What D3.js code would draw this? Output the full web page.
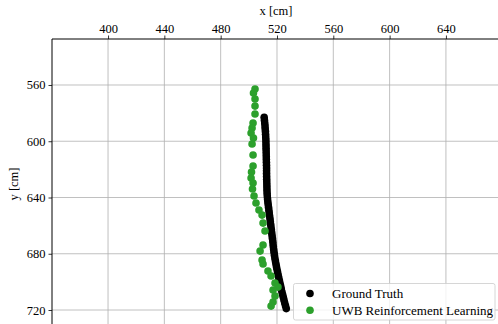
<!DOCTYPE html>
<html><head><meta charset="utf-8">
<script src="https://cdn.jsdelivr.net/npm/d3@7"></script>
<style>
html,body{margin:0;padding:0;background:#fff;overflow:hidden}
text{font-family:"Liberation Serif","Times New Roman",serif;fill:#000}
</style></head><body>
<svg id="c" width="498" height="324"></svg>
<script>
const xTicks = [400, 440, 480, 520, 560, 600, 640];
const yTicks = [560, 600, 640, 680, 720];
const seriesNames = ["Ground Truth", "UWB Reinforcement Learning"];
const seriesColors = ["#000000", "#2ca02c"];

const gtY = [583,585,587,589,591,593,595,597,599,601,603,605,607,609,611,613,615,617,619,621,623,625,627,629,631,633,635,637,639,641,643,645,647,649,651,653,655,657,659,661,663,665,667,669,671,673,675,677,679,681,683,685,687,689,691,693,695,697,699,701,703,705,707,709,711,713,715,717,719];
const gtX = [510.9,511.1,511.3,511.5,511.6,511.8,511.9,512.0,512.1,512.15,512.2,512.25,512.3,512.35,512.4,512.45,512.5,512.55,512.6,512.6,512.6,512.65,512.7,512.75,512.8,512.85,512.9,513.0,513.1,513.3,513.5,513.75,514.0,514.25,514.5,514.75,515.0,515.25,515.5,515.75,516.0,516.25,516.5,516.75,517.0,517.2,517.4,517.65,517.9,518.2,518.5,518.85,519.2,519.6,520.0,520.4,520.8,521.25,521.7,522.15,522.6,523.05,523.5,524.0,524.5,525.0,525.5,526.05,526.6];

const uwbX = [504.4,503.3,504.4,504.4,504.4,503.0,502.3,501.6,503.3,502.3,503.0,503.0,501.9,501.6,503.0,502.6,503.7,505.1,507.2,509.4,510.1,511.5,510.1,508.0,509.4,510.1,513.6,515.8,518.6,520.7,517.2,518.6,517.2,515.8];
const uwbY = [562.8,565.7,570.0,575.0,580.6,587.0,590.6,594.1,597.7,602.0,609.8,617.6,621.9,626.1,629.7,634.0,638.9,643.9,648.9,652.5,658.2,663.8,673.8,678.1,684.5,687.3,692.3,695.8,700.8,703.7,705.8,710.1,714.3,717.2];

const L = 52, T = 39, R = 500, B = 329;
const FONT = "Liberation Serif, Times New Roman, serif";
const svg = d3.select("#c");
const x = d3.scaleLinear().domain([360.2, 678.4]).range([L, R]);
const y = d3.scaleLinear().domain([527.3, 733.5]).range([T, B]);

// grid
const g = svg.append("g");
g.selectAll(".vg").data(xTicks).enter().append("line")
  .attr("x1", d => x(d)).attr("x2", d => x(d)).attr("y1", T).attr("y2", B)
  .attr("stroke", "#b0b0b0").attr("stroke-width", 0.8);
g.selectAll(".hg").data(yTicks).enter().append("line")
  .attr("y1", d => y(d)).attr("y2", d => y(d)).attr("x1", L).attr("x2", R)
  .attr("stroke", "#b0b0b0").attr("stroke-width", 0.8);

// data
const gt = gtX.map((v, i) => [v, gtY[i]]);
const uwb = uwbX.map((v, i) => [v, uwbY[i]]);
const rr = 3.8;
svg.append("g").selectAll("circle").data(gt).enter().append("circle")
  .attr("cx", d => x(d[0])).attr("cy", d => y(d[1])).attr("r", rr).attr("fill", seriesColors[0]);
svg.append("g").selectAll("circle").data(uwb).enter().append("circle")
  .attr("cx", d => x(d[0])).attr("cy", d => y(d[1])).attr("r", rr).attr("fill", seriesColors[1]);

// axes
const fs = "12.5px";
const xa = svg.append("g").attr("transform", `translate(0,${T})`)
  .call(d3.axisTop(x).tickValues(xTicks).tickSize(3.5).tickPadding(3).tickFormat(d3.format("d")));
const ya = svg.append("g").attr("transform", `translate(${L},0)`)
  .call(d3.axisLeft(y).tickValues(yTicks).tickSize(3.5).tickPadding(3).tickFormat(d3.format("d")));
[xa, ya].forEach(a => {
  a.attr("font-family", FONT).attr("font-size", 12.5);
  a.select(".domain").remove();
  a.selectAll(".tick line").attr("stroke", "#000").attr("stroke-width", 0.8);
  a.selectAll("text").attr("font-family", FONT).style("font-family", FONT).style("font-size", fs).attr("fill", "#000");
});
// spines
svg.append("line").attr("x1", L).attr("x2", R).attr("y1", T).attr("y2", T).attr("stroke", "#000").attr("stroke-width", 1);
svg.append("line").attr("x1", L).attr("x2", L).attr("y1", T).attr("y2", B).attr("stroke", "#000").attr("stroke-width", 1);

svg.append("text").attr("x", 276).attr("y", 15).attr("text-anchor", "middle").style("font-size", fs).text("x [cm]");
svg.append("text").attr("transform", `translate(18,${(T + B) / 2}) rotate(-90)`).attr("text-anchor", "middle").style("font-size", fs).text("y [cm]");

// legend
const lg = svg.append("g");
lg.append("rect").attr("x", 293.5).attr("y", 283.5).attr("width", 201.5).attr("height", 36.5).attr("rx", 2)
  .attr("fill", "#fff").attr("fill-opacity", 0.8).attr("stroke", "#cccccc").attr("stroke-width", 0.8);
seriesNames.forEach((n, i) => {
  const cy = 293.5 + i * 16.7;
  lg.append("circle").attr("cx", 310).attr("cy", cy).attr("r", rr).attr("fill", seriesColors[i]);
  lg.append("text").attr("x", 332).attr("y", cy + 4.3).style("font-size", "13px").text(n);
});
</script></body></html>
